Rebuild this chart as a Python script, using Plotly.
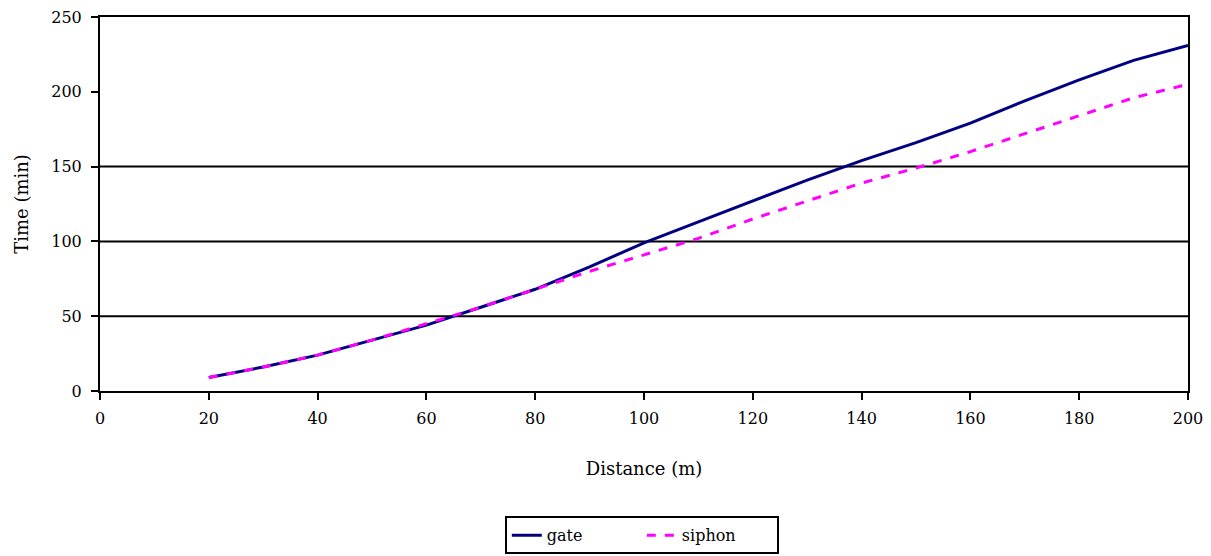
import plotly.graph_objects as go

distance = [20, 30, 40, 50, 60, 70, 80, 90, 100, 110, 120, 130, 140, 150, 160, 170, 180, 190, 200]
gate = [9, 16, 24, 34, 44, 56, 68, 83, 99, 113, 127, 141, 154, 166, 179, 194, 208, 221, 231]
siphon = [9, 16, 24, 34, 45, 56, 68, 80, 91, 102, 115, 127, 139, 149, 160, 172, 184, 196, 205]

x_ticks = [0, 20, 40, 60, 80, 100, 120, 140, 160, 180, 200]
y_ticks = [0, 50, 100, 150, 200, 250]
grid_y = [50, 100, 150]

FONT = "DejaVu Serif"

fig = go.Figure()
fig.add_trace(go.Scatter(x=distance, y=gate, mode="lines", name="gate",
                         line=dict(color="#000080", width=3)))
fig.add_trace(go.Scatter(x=distance, y=siphon, mode="lines", name="siphon",
                         line=dict(color="#FF00FF", width=3, dash="dash")))

for g in grid_y:
    fig.add_shape(type="line", xref="paper", yref="y", x0=0, x1=1, y0=g, y1=g,
                  line=dict(color="black", width=2), layer="below")

fig.update_layout(
    width=1203, height=548,
    margin=dict(l=92, r=23, t=9, b=165, autoexpand=False),
    paper_bgcolor="white", plot_bgcolor="white",
    font=dict(family=FONT, size=16, color="black"),
    showlegend=True,
    legend=dict(orientation="h", x=0.498, xanchor="center", y=-0.335, yanchor="top",
                bordercolor="black", borderwidth=2, font=dict(family=FONT, size=16),
                entrywidth=90, entrywidthmode="pixels"),
    xaxis=dict(range=[0, 200], tickvals=x_ticks, ticks="outside", ticklen=7, tickwidth=2,
               tickcolor="black", showline=True, linecolor="black", linewidth=2,
               mirror=True, showgrid=False, zeroline=False, ticklabelstandoff=5,
               automargin=False, ticklabeloverflow="allow",
               title=dict(text="Distance (m)", standoff=35, font=dict(size=18))),
    yaxis=dict(range=[0, 250], tickvals=y_ticks, ticks="outside", ticklen=7, tickwidth=2,
               tickcolor="black", showline=True, linecolor="black", linewidth=2,
               mirror=True, showgrid=False, zeroline=False, ticklabelstandoff=6,
               automargin=False, ticklabeloverflow="allow",
               title=dict(text="Time (min)", standoff=18, font=dict(size=18))),
)

fig.write_html("out.html")
